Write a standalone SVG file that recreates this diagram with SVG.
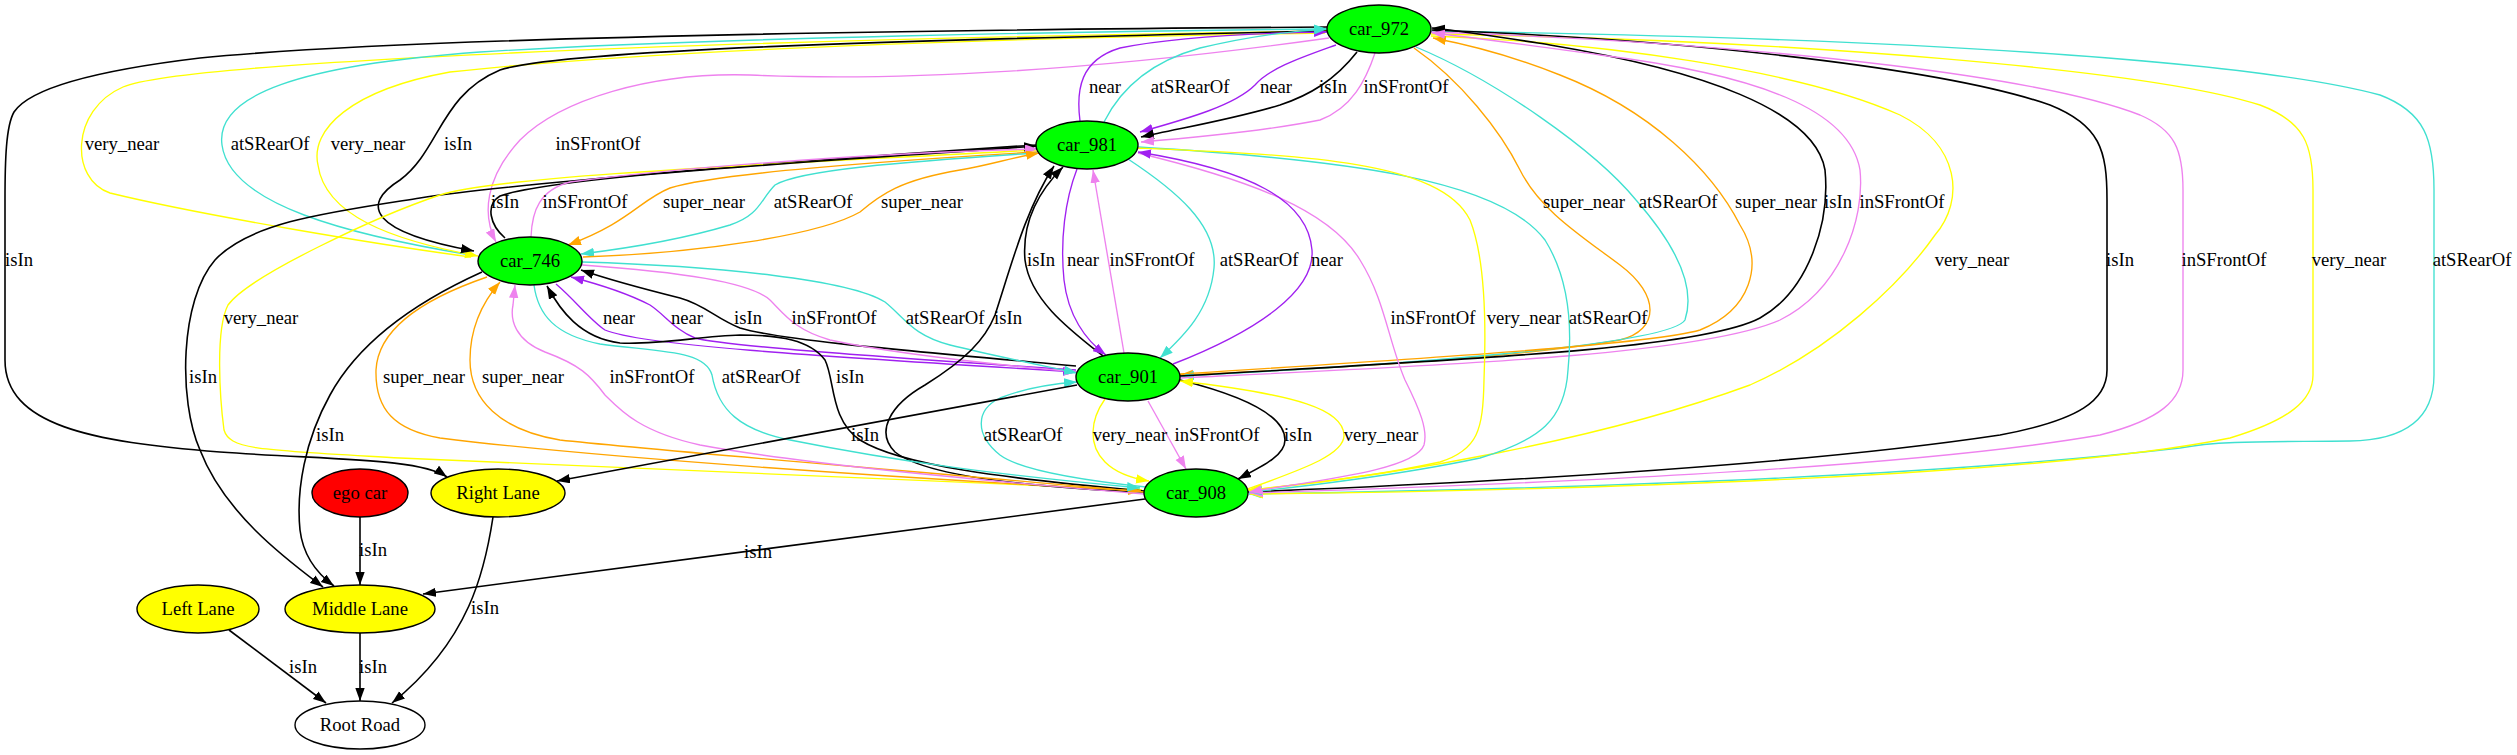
<svg xmlns="http://www.w3.org/2000/svg" width="2517" height="755" viewBox="0 0 2517 755">
<style>
.e{fill:none;stroke-width:1.35}
.k{stroke:#000;stroke-width:1.6;marker-end:url(#mk)}
.p{stroke:#a020f0;marker-end:url(#mp)}
.t{stroke:#40e0d0;marker-end:url(#mt)}
.v{stroke:#ee82ee;marker-end:url(#mv)}
.y{stroke:#ffff00;marker-end:url(#my)}
.o{stroke:#ffa500;marker-end:url(#mo)}
.n{stroke:#000;stroke-width:1.4}
.g{fill:#00ff00}
text{font-family:"Liberation Serif","Times New Roman",serif;font-size:18.67px;text-anchor:middle;fill:#000}
</style>
<defs>
<marker id="mk" markerUnits="userSpaceOnUse" markerWidth="14" markerHeight="10" refX="13" refY="4.7" orient="auto"><path d="M0,0 L13,4.7 L0,9.4 z" fill="#000"/></marker>
<marker id="mp" markerUnits="userSpaceOnUse" markerWidth="14" markerHeight="10" refX="13" refY="4.7" orient="auto"><path d="M0,0 L13,4.7 L0,9.4 z" fill="#a020f0"/></marker>
<marker id="mt" markerUnits="userSpaceOnUse" markerWidth="14" markerHeight="10" refX="13" refY="4.7" orient="auto"><path d="M0,0 L13,4.7 L0,9.4 z" fill="#40e0d0"/></marker>
<marker id="mv" markerUnits="userSpaceOnUse" markerWidth="14" markerHeight="10" refX="13" refY="4.7" orient="auto"><path d="M0,0 L13,4.7 L0,9.4 z" fill="#ee82ee"/></marker>
<marker id="my" markerUnits="userSpaceOnUse" markerWidth="14" markerHeight="10" refX="13" refY="4.7" orient="auto"><path d="M0,0 L13,4.7 L0,9.4 z" fill="#ffff00"/></marker>
<marker id="mo" markerUnits="userSpaceOnUse" markerWidth="14" markerHeight="10" refX="13" refY="4.7" orient="auto"><path d="M0,0 L13,4.7 L0,9.4 z" fill="#ffa500"/></marker>
</defs>
<rect width="2517" height="755" fill="#fff"/>
<g id="connectors">
<path class="e t" d="M1431,31 C1900,38 2250,60 2380,95 C2425,112 2434,140 2434,190 L2434,375 C2434,415 2410,440 2350,441 C2280,442 2220,440 2180,448 C1900,480 1500,490 1249,494"/>
<path class="e y" d="M1431,34 C1800,40 2150,70 2260,105 C2305,122 2313,145 2313,190 L2313,375 C2313,400 2290,420 2230,438 C2050,475 1600,490 1250,494"/>
<path class="e k" d="M1248,492 C1500,482 1800,465 2000,435 C2080,420 2107,400 2107,370 L2107,200 C2107,150 2100,125 2050,105 C1950,70 1700,40 1432,30"/>
<path class="e y" d="M1431,36 C1600,42 1800,70 1900,115 C1960,145 1965,200 1935,235 C1900,285 1830,350 1750,385 C1600,440 1400,475 1249,490"/>
<path class="e v" d="M1431,32 C1800,45 2050,80 2140,115 C2175,130 2183,150 2183,190 L2183,370 C2183,400 2160,420 2100,435 C1900,470 1500,485 1250,493"/>
<path class="e o" d="M1414,48 C1460,80 1500,130 1520,170 C1540,210 1580,235 1620,265 C1660,295 1660,330 1620,340 C1500,360 1300,370 1180,375"/>
<path class="e t" d="M1416,47 C1495,80 1595,150 1636,200 C1680,250 1695,290 1685,320 C1670,345 1400,365 1181,376"/>
<path class="e o" d="M1180,374 C1400,360 1650,345 1700,330 C1750,310 1765,265 1740,225 C1712,170 1650,110 1560,75 C1510,55 1470,45 1433,38"/>
<path class="e k" d="M1180,376 C1450,360 1700,350 1760,318 C1810,290 1830,220 1825,170 C1815,110 1700,70 1550,45 C1500,37 1470,32 1432,28"/>
<path class="e v" d="M1180,378 C1450,365 1700,355 1780,320 C1840,290 1865,220 1860,170 C1850,110 1760,75 1600,55 C1520,44 1470,37 1432,33"/>
<path class="e t" d="M1138,147 C1350,160 1500,180 1545,240 C1570,280 1572,330 1568,370 C1565,420 1540,440 1480,458 C1400,475 1300,487 1249,492"/>
<path class="e y" d="M1137,148 C1300,155 1440,160 1470,220 C1486,260 1486,330 1484,380 C1483,430 1478,450 1440,462 C1380,475 1300,485 1248,490"/>
<path class="e v" d="M1138,153 C1250,180 1330,210 1360,260 C1385,300 1388,340 1405,380 C1420,410 1428,430 1424,445 C1415,470 1320,480 1249,492"/>
<path class="e k" d="M1327,27 C900,30 400,38 200,58 C100,70 30,88 14,112 C6,126 5,160 5,200 L5,360 C5,425 90,442 220,452 C330,460 420,458 447,477"/>
<path class="e y" d="M471,257 C380,245 200,215 110,193 C70,180 70,110 123,87 C180,62 700,40 1327,31"/>
<path class="e t" d="M471,255 C350,235 230,205 222,145 C215,95 300,65 480,52 C700,38 1100,31 1327,29"/>
<path class="e y" d="M1325,33 C1000,38 650,50 450,72 C350,90 310,130 318,165 C325,215 390,240 478,256"/>
<path class="e k" d="M1327,31 C900,40 560,50 500,70 C440,95 440,150 400,180 C360,205 370,232 474,251"/>
<path class="e v" d="M1329,38 C1100,70 900,82 750,75 C650,72 560,100 520,140 C485,178 482,215 496,242"/>
<path class="e p" d="M1080,121 C1076,90 1080,60 1120,48 C1180,36 1260,33 1327,32"/>
<path class="e t" d="M1104,122 C1120,90 1150,62 1200,48 C1250,36 1290,31 1327,29"/>
<path class="e p" d="M1336,45 C1300,58 1270,68 1255,85 C1235,105 1190,118 1140,132"/>
<path class="e k" d="M1357,52 C1335,80 1310,95 1280,105 C1230,120 1180,128 1141,137"/>
<path class="e v" d="M1375,53 C1366,80 1352,108 1320,120 C1260,132 1190,138 1141,142"/>
<path class="e k" d="M1036,145 C800,160 500,185 420,198 C330,212 250,222 215,260 C180,300 178,400 200,450 C225,515 290,562 323,587"/>
<path class="e y" d="M1036,150 C800,163 500,175 440,195 C380,215 250,275 228,305 C215,330 220,400 224,430 C230,450 260,450 400,458 C700,472 950,482 1142,490"/>
<path class="e k" d="M505,238 C490,225 485,205 500,196 C560,175 850,160 1037,146"/>
<path class="e v" d="M531,237 C532,210 540,190 570,182 C700,165 900,152 1038,149"/>
<path class="e o" d="M1037,152 C900,160 720,172 670,188 C640,200 630,222 568,245"/>
<path class="e t" d="M1037,153 C900,162 800,170 775,185 C760,200 760,215 730,225 C680,240 630,248 581,254"/>
<path class="e o" d="M583,257 C700,253 820,235 860,212 C880,195 900,180 960,170 C990,165 1010,158 1039,153"/>
<path class="e p" d="M556,284 C575,300 590,320 605,330 C640,345 800,355 1076,372"/>
<path class="e p" d="M1076,370 C850,355 720,345 695,338 C675,330 665,315 650,305 C625,292 598,284 571,277"/>
<path class="e k" d="M1076,366 C900,350 780,340 740,328 C715,318 705,305 680,298 C640,288 610,280 581,270"/>
<path class="e v" d="M582,265 C680,272 750,282 770,300 C785,315 795,330 830,340 C900,355 1000,365 1077,372"/>
<path class="e t" d="M582,262 C720,266 850,280 885,302 C905,318 912,335 950,345 C990,355 1040,365 1077,373"/>
<path class="e k" d="M1144,491 C1000,478 900,465 860,440 C830,420 835,380 825,360 C810,340 780,335 740,335 C700,336 660,345 620,343 C580,338 560,310 547,286"/>
<path class="e k" d="M1145,492 C1000,486 920,472 895,452 C875,432 890,405 925,385 C965,360 985,340 995,315 C1010,270 1025,210 1054,166"/>
<path class="e o" d="M487,277 C420,300 378,330 376,370 C375,410 395,430 440,438 C600,458 900,478 1141,491"/>
<path class="e o" d="M1144,492 C900,470 650,450 560,440 C500,430 470,400 470,360 C470,330 480,305 500,282"/>
<path class="e v" d="M1144,494 C950,478 780,460 700,445 C640,432 620,410 605,395 C590,375 580,365 545,352 C515,340 510,320 513,305 L515,285"/>
<path class="e t" d="M534,285 C538,315 555,335 600,344 C660,352 705,350 712,375 C718,410 740,430 790,440 C900,462 1000,475 1140,488"/>
<path class="e k" d="M1103,356 C1070,330 1030,300 1025,260 C1022,225 1035,195 1063,167"/>
<path class="e p" d="M1077,169 C1065,200 1060,240 1064,280 C1068,315 1085,340 1106,355"/>
<path class="e v" d="M1124,353 L1093,170"/>
<path class="e t" d="M1128,159 C1175,190 1218,225 1214,268 C1210,310 1185,335 1160,358"/>
<path class="e p" d="M1173,364 C1260,330 1315,290 1312,250 C1308,200 1250,170 1138,152"/>
<path class="e t" d="M1146,487 C1080,480 1020,470 1000,455 C975,435 975,410 1000,398 C1025,388 1050,384 1077,382"/>
<path class="e y" d="M1105,399 C1090,420 1088,445 1105,462 C1115,472 1130,478 1149,481"/>
<path class="e v" d="M1148,401 L1186,469"/>
<path class="e k" d="M1180,380 C1240,395 1285,415 1285,440 C1285,455 1265,465 1238,479"/>
<path class="e y" d="M1248,489 C1300,470 1345,455 1344,435 C1343,410 1300,395 1180,381"/>
<path class="e k" d="M482,272 C420,300 360,340 330,395 C305,440 296,490 300,530 C303,555 315,572 334,586"/>
<path class="e k" d="M1145,499 L423,594"/>
<path class="e k" d="M1077,385 L557,481"/>
<path class="e k" d="M360,517 L360,585"/>
<path class="e k" d="M493,517 C485,570 470,640 392,703"/>
<path class="e k" d="M229,630 L326,703"/>
<path class="e k" d="M360,633 L360,701"/>
<text x="122" y="150">very_near</text>
<text x="270" y="150">atSRearOf</text>
<text x="368" y="150">very_near</text>
<text x="458" y="150">isIn</text>
<text x="598" y="150">inSFrontOf</text>
<text x="1105" y="93">near</text>
<text x="1190" y="93">atSRearOf</text>
<text x="1276" y="93">near</text>
<text x="1333" y="93">isIn</text>
<text x="1406" y="93">inSFrontOf</text>
<text x="505" y="208">isIn</text>
<text x="585" y="208">inSFrontOf</text>
<text x="704" y="208">super_near</text>
<text x="813" y="208">atSRearOf</text>
<text x="922" y="208">super_near</text>
<text x="1584" y="208">super_near</text>
<text x="1678" y="208">atSRearOf</text>
<text x="1776" y="208">super_near</text>
<text x="1838" y="208">isIn</text>
<text x="1902" y="208">inSFrontOf</text>
<text x="19" y="266">isIn</text>
<text x="1041" y="266">isIn</text>
<text x="1083" y="266">near</text>
<text x="1152" y="266">inSFrontOf</text>
<text x="1259" y="266">atSRearOf</text>
<text x="1327" y="266">near</text>
<text x="1972" y="266">very_near</text>
<text x="2120" y="266">isIn</text>
<text x="2224" y="266">inSFrontOf</text>
<text x="2349" y="266">very_near</text>
<text x="2472" y="266">atSRearOf</text>
<text x="261" y="324">very_near</text>
<text x="619" y="324">near</text>
<text x="687" y="324">near</text>
<text x="748" y="324">isIn</text>
<text x="834" y="324">inSFrontOf</text>
<text x="945" y="324">atSRearOf</text>
<text x="1008" y="324">isIn</text>
<text x="1433" y="324">inSFrontOf</text>
<text x="1524" y="324">very_near</text>
<text x="1608" y="324">atSRearOf</text>
<text x="203" y="383">isIn</text>
<text x="424" y="383">super_near</text>
<text x="523" y="383">super_near</text>
<text x="652" y="383">inSFrontOf</text>
<text x="761" y="383">atSRearOf</text>
<text x="850" y="383">isIn</text>
<text x="330" y="441">isIn</text>
<text x="865" y="441">isIn</text>
<text x="1023" y="441">atSRearOf</text>
<text x="1130" y="441">very_near</text>
<text x="1217" y="441">inSFrontOf</text>
<text x="1298" y="441">isIn</text>
<text x="1381" y="441">very_near</text>
<text x="373" y="556">isIn</text>
<text x="758" y="558">isIn</text>
<text x="485" y="614">isIn</text>
<text x="303" y="673">isIn</text>
<text x="373" y="673">isIn</text>
</g>
<g id="car_972"><ellipse class="n g" cx="1379" cy="29" rx="52" ry="24"/><text x="1379" y="35">car_972</text></g>
<g id="car_981"><ellipse class="n g" cx="1087" cy="145" rx="51" ry="24"/><text x="1087" y="151">car_981</text></g>
<g id="car_746"><ellipse class="n g" cx="530" cy="261" rx="52" ry="24"/><text x="530" y="267">car_746</text></g>
<g id="car_901"><ellipse class="n g" cx="1128" cy="377" rx="52" ry="24"/><text x="1128" y="383">car_901</text></g>
<g id="car_908"><ellipse class="n g" cx="1196" cy="493" rx="52" ry="24"/><text x="1196" y="499">car_908</text></g>
<g id="ego_car"><ellipse class="n" fill="#ff0000" cx="360" cy="493" rx="48" ry="24"/><text x="360" y="499">ego car</text></g>
<g id="right_lane"><ellipse class="n" fill="#ffff00" cx="498" cy="493" rx="67" ry="24"/><text x="498" y="499">Right Lane</text></g>
<g id="left_lane"><ellipse class="n" fill="#ffff00" cx="198" cy="609" rx="61" ry="24"/><text x="198" y="615">Left Lane</text></g>
<g id="middle_lane"><ellipse class="n" fill="#ffff00" cx="360" cy="609" rx="75" ry="24"/><text x="360" y="615">Middle Lane</text></g>
<g id="root_road"><ellipse class="n" fill="#ffffff" cx="360" cy="725" rx="65" ry="24"/><text x="360" y="731">Root Road</text></g>
</svg>
